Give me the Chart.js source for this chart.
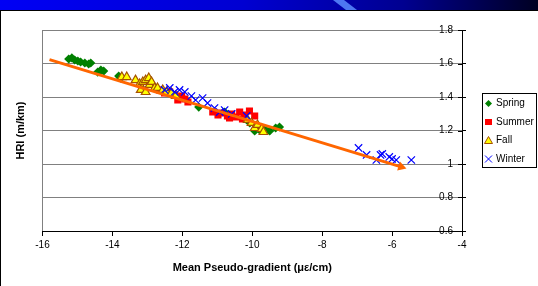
<!DOCTYPE html>
<html><head><meta charset="utf-8">
<script src="https://cdn.jsdelivr.net/npm/chart.js@4/dist/chart.umd.min.js"></script>
<style>html,body{margin:0;padding:0;background:#fff;overflow:hidden}canvas{display:block}</style>
</head><body>
<canvas id="c" width="538" height="286"></canvas>
<script>
const xTicks = [-16, -14, -12, -10, -8, -6, -4];
const yTicks = [0.6, 0.8, 1, 1.2, 1.4, 1.6, 1.8];
const seriesNames = ['Spring', 'Summer', 'Fall', 'Winter'];
const xTitle = 'Mean Pseudo-gradient (\u03bc\u03b5/cm)';
const yTitle = 'HRI (m/km)';

const springX = [-15.25,-15.16,-15.08,-14.99,-14.91,-14.79,-14.68,-14.62,-14.42,-14.33,-14.25,-13.82,-13.76,-11.53,-10.79,-10.07,-9.93,-9.79,-9.64,-9.50,-9.33,-9.22];
const springY = [1.627,1.633,1.621,1.615,1.609,1.603,1.597,1.603,1.549,1.561,1.555,1.525,1.513,1.340,1.310,1.245,1.197,1.203,1.209,1.197,1.215,1.221];

const summerX = [-12.65,-12.51,-12.36,-12.22,-12.13,-12.02,-11.93,-11.84,-11.13,-10.98,-10.87,-10.71,-10.59,-10.48,-10.36,-10.22,-10.08,-9.93,-10.28,-10.65];
const summerY = [1.442,1.424,1.430,1.412,1.382,1.406,1.388,1.370,1.310,1.293,1.304,1.287,1.299,1.281,1.310,1.293,1.316,1.287,1.269,1.275];

const fallX = [-13.73,-13.59,-13.34,-13.22,-13.13,-13.05,-12.96,-12.94,-12.88,-12.79,-13.19,-13.05,-12.71,-12.56,-12.45,-12.31,-12.19,-10.13,-10.02,-9.93,-9.85,-9.73,-9.68];
const fallY = [1.519,1.519,1.501,1.478,1.490,1.501,1.513,1.472,1.490,1.454,1.442,1.430,1.454,1.442,1.430,1.424,1.406,1.263,1.245,1.215,1.233,1.209,1.191];

const winterX = [-12.51,-12.36,-12.22,-12.08,-11.93,-11.74,-11.62,-11.42,-11.28,-11.08,-10.93,-10.79,-10.59,-10.16,-6.96,-6.73,-6.45,-6.33,-6.28,-6.08,-6.00,-5.88,-5.45];
const winterY = [1.442,1.454,1.430,1.442,1.430,1.406,1.382,1.394,1.364,1.334,1.310,1.322,1.299,1.287,1.096,1.054,1.024,1.054,1.060,1.042,1.030,1.024,1.024];

const trendX = [-15.8, -5.74];
const trendY = [1.623, 0.983];

const pts = (xs, ys) => xs.map((x, i) => ({x, y: ys[i]}));

const FONT = '"Liberation Sans", Arial, sans-serif';
Chart.defaults.font.family = FONT;
Chart.defaults.color = '#000';

const COL = {
  spring: '#008000', summer: '#FF0000', fall: '#FFFF00', fallBorder: '#A65200',
  winter: '#0000FF', trend: '#FF6600'
};

const deco = {
  id: 'deco',
  beforeDraw(chart) {
    const ctx = chart.ctx, W = chart.width, H = chart.height;
    ctx.save();
    ctx.fillStyle = '#fff'; ctx.fillRect(0, 0, W, H);
    const g = ctx.createLinearGradient(0, 0, W, 0);
    g.addColorStop(0, '#0000F5'); g.addColorStop(0.45, '#0000D2');
    g.addColorStop(0.75, '#000090'); g.addColorStop(1, '#000022');
    ctx.fillStyle = g; ctx.fillRect(0, 0, W, 10);
    ctx.fillStyle = 'rgba(90,140,255,0.85)';
    ctx.beginPath(); ctx.moveTo(333, 0); ctx.lineTo(344, 0); ctx.lineTo(357, 10); ctx.lineTo(346, 10); ctx.closePath(); ctx.fill();
    ctx.fillStyle = '#000'; ctx.fillRect(0, 10, W, 1); ctx.fillRect(0, 10, 1, H - 10);
    ctx.restore();
  },
  afterDraw(chart) {
    const ctx = chart.ctx;
    const ys = chart.scales.y;
    ctx.save();
    ctx.strokeStyle = '#000'; ctx.lineWidth = 1;
    ys.ticks.forEach(t => {
      const py = Math.round(ys.getPixelForValue(t.value)) + 0.5;
      ctx.beginPath(); ctx.moveTo(ys.left - 4, py); ctx.lineTo(ys.left, py); ctx.stroke();
    });
    // legend
    const bx = 482.5, by = 93.5, bw = 54, bh = 74;
    ctx.strokeStyle = '#000';
    ctx.strokeRect(bx, by, bw, bh);
    const rows = [103.5, 122, 140.5, 159];
    const mx = 488.5;
    ctx.font = '10px ' + FONT; ctx.textBaseline = 'middle'; ctx.textAlign = 'left'; ctx.fillStyle = '#000';
    chart.data.datasets.slice(0, 4).forEach((ds, i) => {
      const y = rows[i];
      ctx.save();
      ctx.beginPath();
      if (i === 0) {
        ctx.fillStyle = COL.spring;
        ctx.moveTo(mx, y - 3.5); ctx.lineTo(mx + 3.5, y); ctx.lineTo(mx, y + 3.5); ctx.lineTo(mx - 3.5, y); ctx.closePath(); ctx.fill();
      } else if (i === 1) {
        ctx.fillStyle = COL.summer; ctx.fillRect(mx - 3.5, y - 3, 7, 6);
      } else if (i === 2) {
        ctx.fillStyle = COL.fall; ctx.strokeStyle = COL.fallBorder; ctx.lineWidth = 1;
        ctx.moveTo(mx, y - 4); ctx.lineTo(mx + 4, y + 3); ctx.lineTo(mx - 4, y + 3); ctx.closePath(); ctx.fill(); ctx.stroke();
      } else {
        ctx.strokeStyle = COL.winter; ctx.lineWidth = 1;
        ctx.moveTo(mx - 3.5, y - 3.5); ctx.lineTo(mx + 3.5, y + 3.5); ctx.moveTo(mx + 3.5, y - 3.5); ctx.lineTo(mx - 3.5, y + 3.5); ctx.stroke();
      }
      ctx.restore();
      ctx.fillStyle = '#000';
      ctx.fillText(ds.label, 496, y);
    });
    ctx.restore();
  }
};

new Chart(document.getElementById('c'), {
  type: 'scatter',
  data: {
    datasets: [
      { label: seriesNames[0], data: pts(springX, springY), pointStyle: 'rectRot', pointRadius: 4.6,
        backgroundColor: COL.spring, borderColor: COL.spring, borderWidth: 0, order: 4 },
      { label: seriesNames[1], data: pts(summerX, summerY), pointStyle: 'rect', pointRadius: 5,
        backgroundColor: COL.summer, borderColor: COL.summer, borderWidth: 0, order: 3 },
      { label: seriesNames[2], data: pts(fallX, fallY), pointStyle: 'triangle', pointRadius: 5,
        backgroundColor: COL.fall, borderColor: COL.fallBorder, borderWidth: 1.2, order: 2 },
      { label: seriesNames[3], data: pts(winterX, winterY), pointStyle: 'crossRot', pointRadius: 5.2,
        backgroundColor: COL.winter, borderColor: COL.winter, borderWidth: 1.2, order: 1 },
      { label: 'Trend', data: pts(trendX, trendY), showLine: true, borderColor: COL.trend, borderWidth: 3,
        backgroundColor: COL.trend, pointStyle: 'triangle', pointRadius: [0, 5.5], pointRotation: [0, 107],
        pointBorderWidth: 0, order: 0 }
    ]
  },
  options: {
    responsive: false, animation: false, devicePixelRatio: 1,
    layout: { padding: { top: 30, left: 0, right: 0, bottom: 0 } },
    plugins: { legend: { display: false }, tooltip: { enabled: false } },
    scales: {
      x: {
        type: 'linear', position: 'bottom', min: xTicks[0], max: xTicks[xTicks.length - 1],
        afterBuildTicks: s => { s.ticks = xTicks.map(v => ({value: v})); },
        ticks: { font: { size: 10 }, color: '#000', padding: 3, callback: v => String(v) },
        grid: { color: c => c.index === 0 ? '#808080' : 'rgba(0,0,0,0)', tickColor: '#000', tickLength: 5, lineWidth: 1 },
        border: { color: '#000', width: 1 },
        title: { display: true, text: xTitle, font: { size: 11, weight: 'bold' }, color: '#000', padding: { top: 0, bottom: 11 } },
        afterFit: s => { s.height = 55; }
      },
      y: {
        type: 'linear', position: 'right', min: yTicks[0], max: yTicks[yTicks.length - 1],
        afterBuildTicks: s => { s.ticks = yTicks.map(v => ({value: v})); },
        ticks: { mirror: true, padding: -9, font: { size: 10 }, color: '#000', callback: v => String(+v.toFixed(1)) },
        grid: { color: c => (c.tick && c.tick.value <= 0.6) ? '#000' : '#808080', tickColor: '#000', tickLength: 4, lineWidth: 1 },
        border: { color: '#000', width: 1 },
        afterFit: s => { s.width = 76; }
      },
      yL: {
        type: 'linear', position: 'left', min: yTicks[0], max: yTicks[yTicks.length - 1],
        ticks: { display: false }, grid: { display: false }, border: { display: false },
        title: { display: true, text: yTitle, font: { size: 11, weight: 'bold' }, color: '#000', padding: { top: 14.5, bottom: 0 } },
        afterFit: s => { s.width = 42.5; }
      }
    }
  },
  plugins: [deco]
});
</script>
</body></html>
